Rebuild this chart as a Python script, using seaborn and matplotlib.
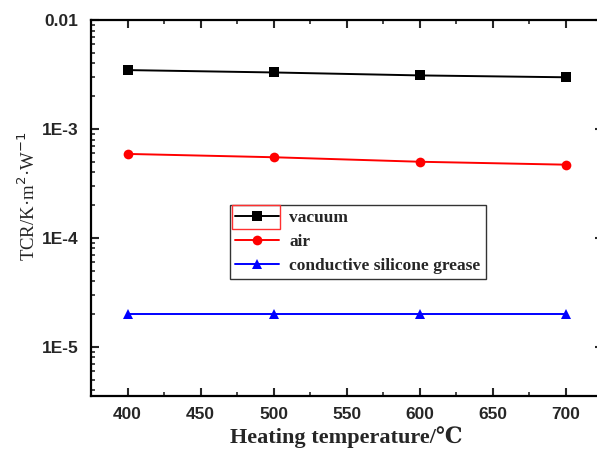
import numpy as np
import pandas as pd
import matplotlib
matplotlib.use("Agg")
import matplotlib.pyplot as plt
import seaborn as sns
from matplotlib.ticker import FixedLocator, LogLocator, NullFormatter, MultipleLocator
from matplotlib.patches import Rectangle

temps = [400, 500, 600, 700]
vacuum = [3.47e-3, 3.30e-3, 3.10e-3, 2.98e-3]
air = [5.9e-4, 5.5e-4, 5.0e-4, 4.7e-4]
grease = [2.0e-5, 2.0e-5, 2.0e-5, 2.0e-5]
series_names = ["vacuum", "air", "conductive silicone grease"]
colors = ["#000000", "#ff0000", "#0000ff"]
marker_list = ["s", "o", "^"]
xticks = [400, 450, 500, 550, 600, 650, 700]
yticks = [1e-5, 1e-4, 1e-3, 1e-2]
ytick_labels = ["1E-5", "1E-4", "1E-3", "0.01"]

df = pd.DataFrame({
    "temp": temps * 3,
    "tcr": vacuum + air + grease,
    "series": sum([[n] * len(temps) for n in series_names], []),
})

sns.set_style("ticks")
fig = plt.figure(figsize=(5.97, 4.55), dpi=100)
ax = fig.add_axes([91 / 597, 59 / 455, 511.5 / 597, 376 / 455])

sns.lineplot(data=df, x="temp", y="tcr", hue="series", style="series",
             hue_order=series_names, style_order=series_names,
             palette=colors, markers=marker_list, dashes=False,
             markersize=7, linewidth=1.4, markeredgewidth=0, ax=ax)

ax.set_yscale("log")
ax.set_xlim(375, 725)
ax.set_ylim(3.54e-6, 1e-2)
ax.xaxis.set_major_locator(FixedLocator(xticks))
ax.xaxis.set_minor_locator(MultipleLocator(25))
ax.yaxis.set_major_locator(FixedLocator(yticks))
ax.set_yticklabels(ytick_labels)
ax.yaxis.set_minor_locator(LogLocator(base=10, subs=np.arange(2, 10)))
ax.yaxis.set_minor_formatter(NullFormatter())

for sp in ax.spines.values():
    sp.set_linewidth(1.6)
    sp.set_color("black")
    sp.set_visible(True)

ax.tick_params(which="major", direction="in", length=6, width=1.5,
               top=True, right=True, labelsize=12.5)
ax.tick_params(which="minor", direction="in", length=3, width=1.2,
               top=True, right=True)
for lab in ax.get_xticklabels() + ax.get_yticklabels():
    lab.set_fontfamily("Liberation Sans")
    lab.set_fontweight("bold")
ax.tick_params(axis="x", pad=8)
ax.tick_params(axis="y", pad=9)

ax.set_xlabel("Heating temperature/\u2103", family=["Liberation Serif", "DejaVu Serif"],
              fontweight="bold", fontsize=16, labelpad=3)
ax.set_ylabel("TCR/K\u00b7m$^{2}$\u00b7W$^{-1}$", family=["Liberation Serif", "DejaVu Serif"],
              fontsize=13.5)
ax.yaxis.set_label_coords(-0.102, 0.53)

leg = ax.legend(loc="upper left", bbox_to_anchor=(0.272, 0.508), borderaxespad=0,
                frameon=True, fancybox=False, edgecolor="black",
                prop={"family": "Liberation Serif", "weight": "bold", "size": 12.5},
                handlelength=2.5, handletextpad=0.6, labelspacing=0.45,
                borderpad=0.3)
leg.get_frame().set_linewidth(1.0)
leg.set_title(None)

fig.canvas.draw()
h = leg.legend_handles[0]
bb = h.get_window_extent(fig.canvas.get_renderer())
inv = fig.transFigure.inverted()
(x0, y0), (x1, y1) = inv.transform([[bb.x0 + 2, bb.y0 - 8], [bb.x1 - 4, bb.y1 + 6]])
fig.patches.append(Rectangle((x0, y0), x1 - x0, y1 - y0, transform=fig.transFigure,
                             fill=False, edgecolor="#ff3030", linewidth=1.0, zorder=10))

fig.savefig("out.png", dpi=100)
